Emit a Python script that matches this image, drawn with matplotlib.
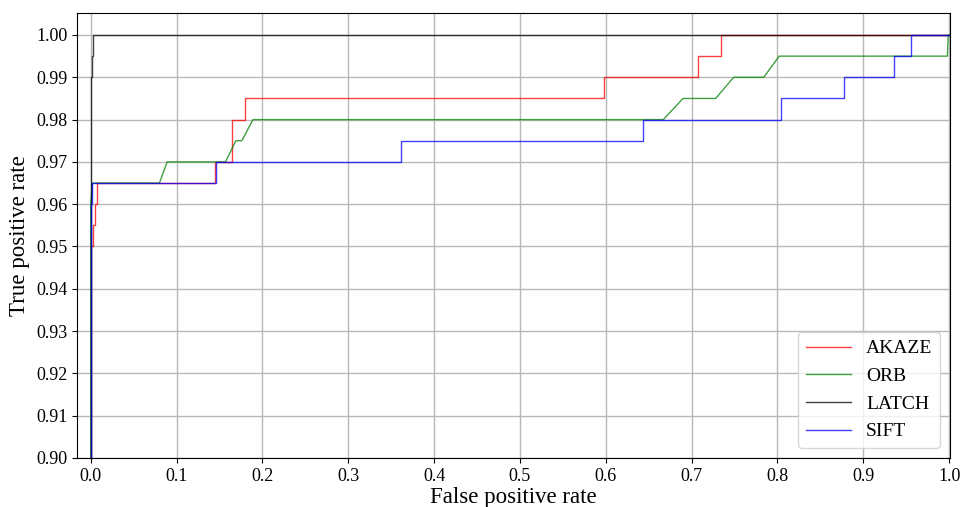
import matplotlib
matplotlib.use("Agg")
import matplotlib.pyplot as plt

plt.rcParams['font.family'] = ['Liberation Serif', 'DejaVu Serif']
plt.rcParams['mathtext.fontset'] = 'stix'

# ROC curve points (false positive rate, true positive rate)
akaze_fpr = [0.0, 0.0, 0.003, 0.003, 0.005, 0.005, 0.007, 0.007, 0.145, 0.145, 0.164, 0.164, 0.180, 0.180, 0.598, 0.598, 0.708, 0.708, 0.734, 0.734, 1.0]
akaze_tpr = [0.0, 0.950, 0.950, 0.955, 0.955, 0.960, 0.960, 0.965, 0.965, 0.970, 0.970, 0.980, 0.980, 0.985, 0.985, 0.990, 0.990, 0.995, 0.995, 1.000, 1.0]

orb_fpr = [0.0, 0.0, 0.002, 0.080, 0.089, 0.157, 0.169, 0.176, 0.189, 0.667, 0.690, 0.728, 0.749, 0.784, 0.802, 0.998, 0.999, 1.0]
orb_tpr = [0.0, 0.960, 0.965, 0.965, 0.970, 0.970, 0.975, 0.975, 0.980, 0.980, 0.985, 0.985, 0.990, 0.990, 0.995, 0.995, 1.000, 1.0]

latch_fpr = [0.0, 0.0, 0.001, 0.001, 0.003, 0.003, 1.0]
latch_tpr = [0.0, 0.990, 0.990, 0.995, 0.995, 1.000, 1.0]

sift_fpr = [0.0, 0.0, 0.002, 0.002, 0.146, 0.146, 0.362, 0.362, 0.643, 0.643, 0.804, 0.804, 0.878, 0.878, 0.936, 0.936, 0.956, 0.956, 1.0]
sift_tpr = [0.0, 0.960, 0.960, 0.965, 0.965, 0.970, 0.970, 0.975, 0.975, 0.980, 0.980, 0.985, 0.985, 0.990, 0.990, 0.995, 0.995, 1.000, 1.0]

x_ticks = [0.0, 0.1, 0.2, 0.3, 0.4, 0.5, 0.6, 0.7, 0.8, 0.9, 1.0]
y_ticks = [0.90, 0.91, 0.92, 0.93, 0.94, 0.95, 0.96, 0.97, 0.98, 0.99, 1.00]

fig = plt.figure(figsize=(9.67, 5.07), dpi=100)
ax = fig.add_axes([77 / 967, 1 - 458 / 507, (950 - 77) / 967, (458 - 13) / 507])

ax.plot(akaze_fpr, akaze_tpr, color='r', lw=1, alpha=0.75, label='AKAZE')
ax.plot(orb_fpr, orb_tpr, color='g', lw=1, alpha=0.75, label='ORB')
ax.plot(latch_fpr, latch_tpr, color='k', lw=1, alpha=0.75, label='LATCH')
ax.plot(sift_fpr, sift_tpr, color='b', lw=1, alpha=0.75, label='SIFT')

ax.set_xlim(-0.016, 1.001)
ax.set_ylim(0.9, 1.0052)
ax.set_xticks(x_ticks)
ax.set_yticks(y_ticks)
ax.set_xticklabels([f"{v:.1f}" for v in x_ticks])
ax.set_yticklabels([f"{v:.2f}" for v in y_ticks])
ax.tick_params(labelsize=13)
ax.grid(True, color='#b8b8b8', lw=1)
ax.set_axisbelow(True)
ax.set_xlabel('False positive rate', fontsize=16.5, labelpad=2)
ax.set_ylabel('True positive rate', fontsize=16.5, labelpad=4)
ax.legend(loc='lower right', fontsize=14, handlelength=2.3, labelspacing=0.52,
          borderaxespad=0.5)

fig.savefig('out.png', dpi=100)
